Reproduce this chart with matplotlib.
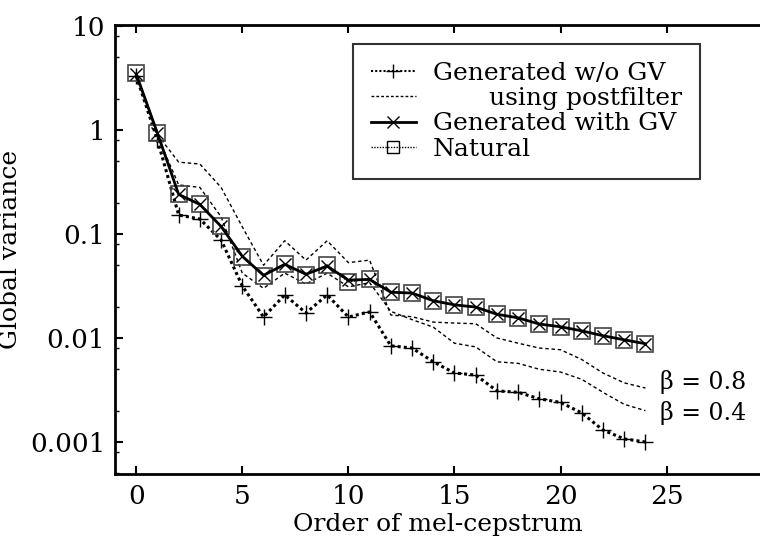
""" Global variance of mel-cepstrum: natural vs generated speech """

import numpy as np
import matplotlib
matplotlib.use('Agg')
import matplotlib.pyplot as plt
from matplotlib.lines import Line2D
from matplotlib.ticker import LogLocator, NullFormatter


## Data
order = np.arange(25)

gv_natural = [3.53, 0.94, 0.24, 0.194, 0.119, 0.060, 0.0395, 0.0515, 0.0404,
              0.0503, 0.0346, 0.0370, 0.0277, 0.0271, 0.0227, 0.0208, 0.0199,
              0.0170, 0.0155, 0.0137, 0.0128, 0.0117, 0.0105, 0.0096, 0.0088]

gv_with_gv = [3.45, 0.93, 0.24, 0.192, 0.118, 0.061, 0.040, 0.051, 0.041,
              0.049, 0.036, 0.0365, 0.0275, 0.027, 0.0228, 0.0208, 0.0198,
              0.0169, 0.0156, 0.0136, 0.0128, 0.0117, 0.0105, 0.0096, 0.0088]

gv_without = [3.3, 0.80, 0.152, 0.139, 0.0875, 0.0316, 0.0159, 0.0259, 0.0174,
              0.0259, 0.0159, 0.0178, 0.0084, 0.0080, 0.0059, 0.0046, 0.0044,
              0.0031, 0.0030, 0.0026, 0.0024, 0.0019, 0.0013, 0.00107, 0.00100]

gv_post08 = [3.3, 0.90, 0.49, 0.47, 0.28, 0.117, 0.050, 0.086, 0.056,
             0.086, 0.053, 0.056, 0.0166, 0.016, 0.0142, 0.0139, 0.0137,
             0.0100, 0.0089, 0.0080, 0.0077, 0.0062, 0.0046, 0.0037, 0.0033]

gv_post04 = [3.3, 0.88, 0.296, 0.28, 0.146, 0.042, 0.030, 0.042, 0.033,
             0.042, 0.031, 0.034, 0.018, 0.015, 0.0127, 0.0089, 0.0082,
             0.0059, 0.0057, 0.0050, 0.0047, 0.0040, 0.0030, 0.0023, 0.0020]

xticks = [0, 5, 10, 15, 20, 25]
yticks = [0.001, 0.01, 0.1, 1, 10]
ytick_labels = ['0.001', '0.01', '0.1', '1', '10']


plt.rcParams['font.family'] = ['DejaVu Serif']
plt.rcParams['font.size'] = 18

fig = plt.figure(figsize=(7.6, 5.43), dpi=100)
ax = fig.add_axes([115 / 760, 1 - 474 / 543, 1 - 115 / 760, (474 - 25) / 543])

# postfilter curves
ax.plot(order, gv_post08, color='k', linestyle=(0, (2.5, 2)), linewidth=1.0)
ax.plot(order, gv_post04, color='k', linestyle=(0, (2.5, 2)), linewidth=1.0)

# generated without GV
ax.plot(order, gv_without, color='k', linestyle=(0, (1, 1)), linewidth=2.2,
        marker='+', markersize=12, markeredgewidth=1.0)

# natural
ax.plot(order, gv_natural, color='k', linestyle=(0, (1, 1)), linewidth=1.0,
        marker='s', markersize=11, markerfacecolor='none',
        markeredgecolor='#444444', markeredgewidth=1.2)

# generated with GV
ax.plot(order, gv_with_gv, color='k', linestyle='-', linewidth=2.0,
        marker='x', markersize=9, markeredgewidth=1.0)

ax.set_yscale('log')
ax.set_xlim(-1, 29.4)
ax.set_ylim(4.92e-4, 10.2)
ax.set_xticks(xticks)
ax.set_yticks(yticks)
ax.set_yticklabels(ytick_labels)
ax.yaxis.set_minor_locator(LogLocator(base=10, subs=[2, 5, 8]))
ax.yaxis.set_minor_formatter(NullFormatter())
ax.tick_params(which='both', direction='in', top=True, right=False)
ax.tick_params(which='major', length=6, width=1.5, pad=7, labelsize=19)
ax.tick_params(which='minor', length=3, width=1.0)
ax.tick_params(axis='x', which='minor', bottom=False, top=False)
for side in ['left', 'bottom', 'top']:
    ax.spines[side].set_linewidth(2.0)
ax.spines['right'].set_visible(False)

ax.set_xlabel('Order of mel-cepstrum', labelpad=3)
ax.set_ylabel('Global variance', labelpad=6)

# beta annotations next to the curve ends
ax.text(order[-1] + 0.7, gv_post08[-1] * 1.15, 'β = 0.8', va='center',
        fontsize=17)
ax.text(order[-1] + 0.7, gv_post04[-1] * 0.95, 'β = 0.4', va='center',
        fontsize=17)

handles = [
    Line2D([], [], color='k', linestyle=(0, (1, 1)), linewidth=1.5,
           marker='+', markersize=10, markeredgewidth=1.0),
    Line2D([], [], color='k', linestyle=(0, (2, 1.5)), linewidth=1.0),
    Line2D([], [], color='k', linestyle='-', linewidth=2.0,
           marker='x', markersize=8, markeredgewidth=1.0),
    Line2D([], [], color='k', linestyle=(0, (1, 1)), linewidth=1.0,
           marker='s', markersize=9, markerfacecolor='none',
           markeredgewidth=1.0),
]
labels = ['Generated w/o GV', '       using postfilter',
          'Generated with GV', 'Natural']
leg = ax.legend(handles, labels, loc='upper left',
                bbox_to_anchor=((353 - 115) / 645, (474 - 44) / 449),
                frameon=True, fancybox=False, edgecolor='k',
                handlelength=1.8, handletextpad=0.7, labelspacing=0.1,
                borderpad=0.7, borderaxespad=0, fontsize=18)
leg.get_frame().set_linewidth(1.5)

fig.savefig('out.png', dpi=100)
